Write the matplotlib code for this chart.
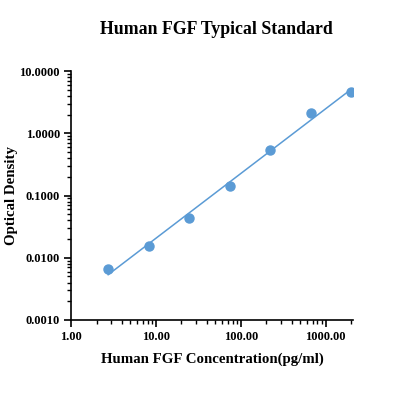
import numpy as np
import matplotlib.pyplot as plt
from matplotlib.ticker import LogLocator, FixedLocator, NullFormatter

concentration = [2.74, 8.2, 24.7, 74.0, 222.0, 667.0, 2000.0]
optical_density = [0.0066, 0.0155, 0.043, 0.143, 0.533, 2.14, 4.6]

x_ticks = [1, 10, 100, 1000]
x_tick_labels = ['1.00', '10.00', '100.00', '1000.00']
y_ticks = [0.001, 0.01, 0.1, 1, 10]
y_tick_labels = ['0.0010', '0.0100', '0.1000', '1.0000', '10.0000']

plt.rcParams['font.family'] = ['Liberation Serif', 'DejaVu Serif']
plt.rcParams['font.weight'] = 'bold'

fig = plt.figure(figsize=(4, 4), dpi=100)
ax = fig.add_axes([71 / 400, 80 / 400, 282 / 400, 249 / 400])

# log-log linear fit for the standard curve
logx = np.log10(concentration)
logy = np.log10(optical_density)
slope, intercept = np.polyfit(logx, logy, 1)
fit_x = np.array([concentration[0], concentration[-1]])
fit_y = 10 ** (intercept + slope * np.log10(fit_x))

color = '#5b9bd5'
ax.plot(fit_x, fit_y, color=color, linewidth=1.1, zorder=2)
ax.plot(concentration, optical_density, 'o', color=color, markersize=6.5, zorder=3)

ax.set_xscale('log')
ax.set_yscale('log')
ax.set_xlim(1, 2100)
ax.set_ylim(0.001, 10)

ax.xaxis.set_major_locator(FixedLocator(x_ticks))
ax.set_xticklabels(x_tick_labels)
ax.yaxis.set_major_locator(FixedLocator(y_ticks))
ax.set_yticklabels(y_tick_labels)
ax.xaxis.set_minor_locator(LogLocator(base=10, subs=np.arange(2, 10)))
ax.yaxis.set_minor_locator(LogLocator(base=10, subs=np.arange(2, 10)))
ax.xaxis.set_minor_formatter(NullFormatter())
ax.yaxis.set_minor_formatter(NullFormatter())

for s in ['top', 'right']:
    ax.spines[s].set_visible(False)
for s in ['left', 'bottom']:
    ax.spines[s].set_linewidth(1.2)

ax.tick_params(which='major', direction='out', length=5, width=1.2, labelsize=9, pad=3)
ax.tick_params(which='minor', direction='out', length=3, width=1.0)

ax.set_xlabel('Human FGF Concentration(pg/ml)', fontsize=10.7, fontweight='bold', labelpad=7)
ax.set_ylabel('Optical Density', fontsize=10.7, fontweight='bold', labelpad=1)
fig.text(0.54, 0.947, 'Human FGF Typical Standard', fontsize=12.8, fontweight='bold',
         ha='center', va='top')

plt.savefig('out.png', dpi=100)
